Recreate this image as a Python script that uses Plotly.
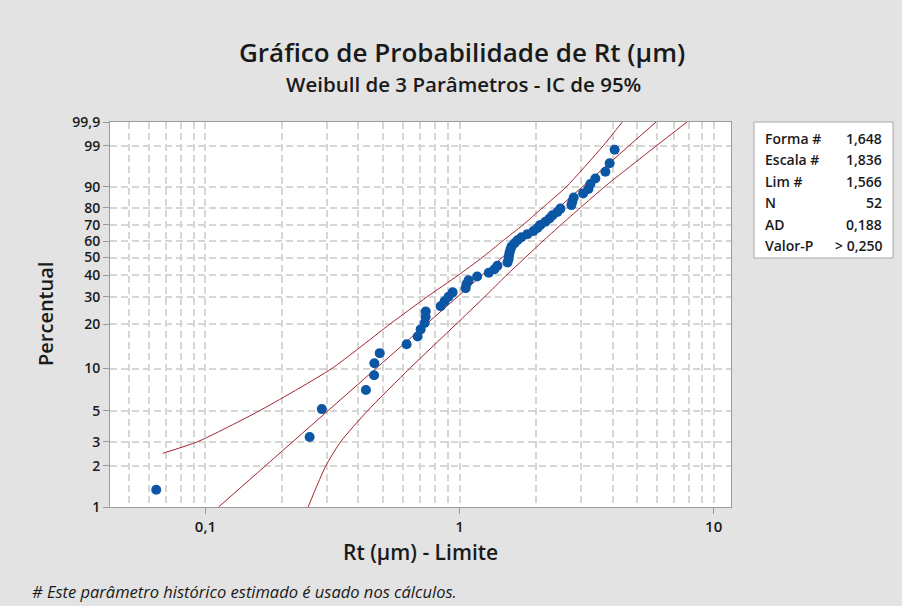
import numpy as np
import plotly.graph_objects as go

# Rt measurements (µm), sorted
rt = [1.630, 1.823, 1.853, 1.994, 2.027, 2.028, 2.051, 2.185, 2.250, 2.269,
      2.295, 2.301, 2.302, 2.408, 2.439, 2.471, 2.505, 2.622, 2.631, 2.651,
      2.739, 2.869, 2.938, 2.976, 3.110, 3.124, 3.131, 3.138, 3.152, 3.167,
      3.211, 3.256, 3.318, 3.416, 3.519, 3.591, 3.647, 3.743, 3.824, 3.886,
      3.993, 4.060, 4.321, 4.346, 4.379, 4.629, 4.780, 4.838, 4.989, 5.314,
      5.462, 5.642]

# 3-parameter Weibull estimates and goodness of fit
forma = 1.648
escala = 1.836
limite = 1.566
ad = 0.188
valor_p = "> 0,250"

# 95% confidence band: (percent, Rt - Limite)
banda_sup_pct = [2.47, 3, 5, 10, 20, 30, 40, 50, 60, 70, 80, 90, 99, 99.9]
banda_sup_x = [0.0679, 0.0932, 0.1627, 0.314, 0.531, 0.746, 0.985, 1.228,
               1.476, 1.775, 2.119, 2.633, 3.67, 4.37]
banda_inf_pct = [1, 2, 3, 5, 10, 20, 30, 40, 50, 60, 70, 80, 90, 99, 99.9]
banda_inf_x = [0.2535, 0.2975, 0.3406, 0.4337, 0.636, 0.968, 1.257, 1.526,
               1.815, 2.128, 2.503, 2.985, 3.722, 5.944, 7.85]

# probability-axis ticks
y_tick_pct = [1, 2, 3, 5, 10, 20, 30, 40, 50, 60, 70, 80, 90, 99, 99.9]
y_tick_txt = ["1", "2", "3", "5", "10", "20", "30", "40", "50", "60", "70",
              "80", "90", "99", "99,9"]
x_tick_vals = [0.1, 1, 10]
x_tick_txt = ["0,1", "1", "10"]
x_minor_vals = [0.05, 0.06, 0.07, 0.08, 0.09, 0.2, 0.3, 0.4, 0.5, 0.6, 0.7,
                0.8, 0.9, 2, 3, 4, 5, 6, 7, 8, 9]


def wscale(pct):
    p = np.asarray(pct, dtype=float) / 100.0
    return np.log(-np.log(1.0 - p))


def fmt(v, d=3):
    return f"{v:.{d}f}".replace(".", ",")


x_obs = np.array(rt) - limite
n = len(rt)
ranks = np.arange(1, n + 1)
pct_obs = (ranks - 0.3) / (n + 0.4) * 100.0

# fitted line from the shape/scale estimates
y_lo, y_hi = float(wscale(1)), float(wscale(99.9))
fit_y = np.array([y_lo, y_hi])
fit_x = escala * np.exp(fit_y / forma)

FONT = "Open Sans"
DARK = "#1a1a1a"
BAND = "#A3242A"
GRID = "#D6D6D6"
AXIS = "#9A9A9A"
DASH = "7px,4px"

fig = go.Figure()
fig.add_trace(go.Scatter(x=banda_sup_x, y=wscale(banda_sup_pct), mode="lines",
                         line=dict(color=BAND, width=1, shape="spline", smoothing=0.6),
                         hoverinfo="skip"))
fig.add_trace(go.Scatter(x=banda_inf_x, y=wscale(banda_inf_pct), mode="lines",
                         line=dict(color=BAND, width=1, shape="spline", smoothing=0.6),
                         hoverinfo="skip"))
fig.add_trace(go.Scatter(x=fit_x, y=fit_y, mode="lines",
                         line=dict(color=BAND, width=1), hoverinfo="skip"))
fig.add_trace(go.Scatter(x=x_obs, y=wscale(pct_obs), mode="markers",
                         marker=dict(color="#0B57A5", size=10, line=dict(width=0))))

fig.update_xaxes(
    type="log", range=[np.log10(0.0421), np.log10(11.7)],
    tickmode="array", tickvals=x_tick_vals, ticktext=x_tick_txt,
    ticks="outside", ticklen=6, tickcolor=AXIS,
    showgrid=True, gridcolor=GRID, gridwidth=1.5, griddash=DASH,
    minor=dict(tickmode="array", tickvals=x_minor_vals, showgrid=True,
               gridcolor=GRID, gridwidth=1.5, griddash=DASH, ticks=""),
    showline=True, linecolor=AXIS, linewidth=1, mirror=True,
    zeroline=False,
    tickfont=dict(family=FONT, size=15, color=DARK, weight=600),
)
fig.update_yaxes(
    range=[y_lo, y_hi],
    tickmode="array", tickvals=wscale(y_tick_pct), ticktext=y_tick_txt,
    ticks="outside", ticklen=6, tickcolor=AXIS,
    showgrid=True, gridcolor=GRID, gridwidth=1.5, griddash=DASH,
    showline=True, linecolor=AXIS, linewidth=1, mirror=True,
    zeroline=False,
    tickfont=dict(family=FONT, size=14, color=DARK, weight=600),
)

L, R, T, B = 110, 171, 122, 99
W, H = 902, 606
pw, ph = W - L - R, H - T - B


def px(xp):
    return (xp - L) / pw


def py(yp):
    return (H - B - yp) / ph


ann = []
ann.append(dict(text="Gráfico de Probabilidade de Rt (µm)", x=px(462), y=py(52),
                font=dict(family=FONT, size=26, color=DARK, weight=600)))
ann.append(dict(text="Weibull de 3 Parâmetros - IC de 95%", x=px(463), y=py(84),
                font=dict(family=FONT, size=20.5, color=DARK, weight=600)))
ann.append(dict(text="Rt (µm) - Limite", x=px(420), y=py(552),
                font=dict(family=FONT, size=21, color=DARK, weight=600)))
ann.append(dict(text="Percentual", x=px(45), y=py(314), textangle=-90,
                font=dict(family=FONT, size=20, color=DARK, weight=600)))
ann.append(dict(text="<i># Este parâmetro histórico estimado é usado nos cálculos.</i>",
                x=px(30), y=py(591), xanchor="left",
                font=dict(family=FONT, size=16.5, color=DARK)))

rows = [("Forma #", fmt(forma)), ("Escala #", fmt(escala)),
        ("Lim #", fmt(limite)), ("N", str(n)), ("AD", fmt(ad)),
        ("Valor-P", valor_p)]
row_y = [138, 159.5, 181, 202.5, 224, 245.5]
for (lab, val), yy in zip(rows, row_y):
    ann.append(dict(text=lab, x=px(763), y=py(yy), xanchor="left",
                    font=dict(family=FONT, size=14, color=DARK, weight=600)))
    ann.append(dict(text=val, x=px(884), y=py(yy), xanchor="right",
                    font=dict(family=FONT, size=14, color=DARK, weight=600)))

for a in ann:
    a.setdefault("xanchor", "center")
    a.update(xref="paper", yref="paper", yanchor="middle", showarrow=False)

fig.update_layout(
    width=W, height=H,
    margin=dict(l=L, r=R, t=T, b=B, autoexpand=False),
    paper_bgcolor="#E3E3E3", plot_bgcolor="white",
    showlegend=False,
    annotations=ann,
    shapes=[dict(type="rect", xref="paper", yref="paper",
                 x0=px(754), x1=px(893), y0=py(258), y1=py(122),
                 line=dict(color="#A8A8A8", width=1), fillcolor="white",
                 layer="below")],
)

fig.write_html("out.html")
